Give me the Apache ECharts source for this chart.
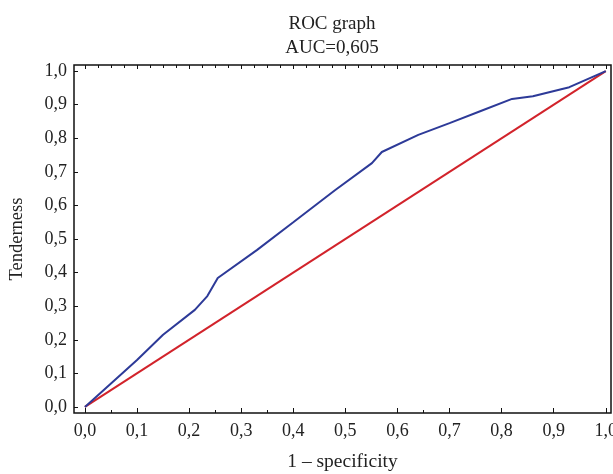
<!DOCTYPE html>
<html>
<head>
<meta charset="utf-8">
<script src="https://cdn.jsdelivr.net/npm/echarts@6/dist/echarts.min.js"></script>
<style>html,body{margin:0;padding:0;background:#fff}#c{width:613px;height:474px}</style>
</head>
<body>
<div id="c"></div>
<script>
const titleLines = ['ROC graph', 'AUC=0,605'];
const xName = '1 – specificity';
const yName = 'Tenderness';
const tickValues = [0, 0.1, 0.2, 0.3, 0.4, 0.5, 0.6, 0.7, 0.8, 0.9, 1.0];
const bottomMinorTicks = [0.05, 0.25, 0.35, 0.65];
const topMinorTicks = [0.025,0.05,0.075,0.125,0.15,0.175,0.225,0.25,0.275,0.325,0.35,0.375,0.425,0.45,0.475,0.525,0.55,0.575,0.625,0.65,0.675,0.725,0.75,0.775,0.825,0.85,0.875,0.925,0.95,0.975];
const rocX = [0, 0.05, 0.10, 0.15, 0.211, 0.235, 0.255, 0.33, 0.40, 0.48, 0.551, 0.570, 0.64, 0.70, 0.76, 0.82, 0.86, 0.93, 1.0];
const rocY = [0, 0.07, 0.14, 0.215, 0.289, 0.33, 0.384, 0.467, 0.55, 0.645, 0.726, 0.759, 0.81, 0.845, 0.881, 0.917, 0.925, 0.952, 1.0];
const refX = [0, 1];
const refY = [0, 1];

const font = 'Liberation Serif';
const fmt = v => v.toFixed(1).replace('.', ',');
const xMin = -0.021, xMax = 1.01, yMin = -0.018, yMax = 1.018;

function xAx(pos, ticks, len, labels, extra) {
  return Object.assign({
    type: 'value', position: pos, min: xMin, max: xMax,
    axisLine: { show: false, onZero: false },
    splitLine: { show: false },
    axisTick: { show: true, inside: true, length: len, customValues: ticks, lineStyle: { color: '#111', width: 1 } },
    axisLabel: labels ? { show: true, customValues: ticks, formatter: fmt, fontFamily: font, fontSize: 18, color: '#222', margin: 9 } : { show: false }
  }, extra || {});
}

const chart = echarts.init(document.getElementById('c'), null, { renderer: 'canvas' });
chart.setOption({
  animation: false,
  backgroundColor: '#fff',
  title: {
    text: titleLines.join('\n'), left: 327, top: 7, textAlign: 'center',
    textStyle: { fontFamily: font, fontSize: 19, fontWeight: 'normal', color: '#222', lineHeight: 24 }
  },
  grid: { left: 74, top: 65, right: 2, bottom: 61, show: true, borderColor: '#111', borderWidth: 1.5, containLabel: false, outerBoundsMode: 'none' },
  xAxis: [
    xAx('bottom', tickValues, 5, true, { name: xName, nameLocation: 'middle', nameGap: 39, nameTextStyle: { fontFamily: font, fontSize: 19.5, color: '#222' } }),
    xAx('bottom', bottomMinorTicks, 3, false),
    xAx('top', tickValues, 4, false),
    xAx('top', topMinorTicks, 3, false)
  ],
  yAxis: {
    type: 'value', min: yMin, max: yMax,
    name: yName, nameLocation: 'middle', nameGap: 47, nameRotate: 90,
    nameTextStyle: { fontFamily: font, fontSize: 18.5, color: '#222' },
    axisLine: { show: false, onZero: false }, splitLine: { show: false },
    axisTick: { show: true, inside: true, length: 4, customValues: tickValues, lineStyle: { color: '#111' } },
    axisLabel: { show: true, customValues: tickValues, formatter: fmt, fontFamily: font, fontSize: 18, color: '#222', margin: 7 }
  },
  series: [
    { type: 'line', data: refX.map((x, i) => [x, refY[i]]), showSymbol: false, lineStyle: { color: '#d2232b', width: 2 }, z: 2 },
    { type: 'line', data: rocX.map((x, i) => [x, rocY[i]]), showSymbol: false, lineStyle: { color: '#2d3a98', width: 2 }, z: 3 }
  ]
});
</script>
</body>
</html>
